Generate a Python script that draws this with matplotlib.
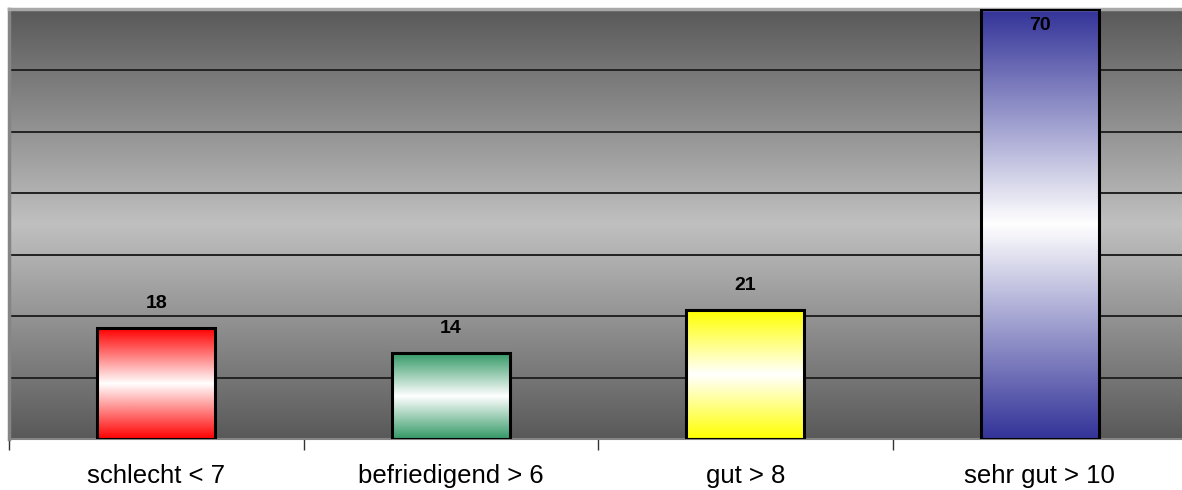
import matplotlib.pyplot as plt
import numpy as np
from matplotlib.colors import LinearSegmentedColormap
from matplotlib.patches import Rectangle

categories = ['schlecht < 7', 'befriedigend > 6', 'gut > 8', 'sehr gut > 10']
values = [18, 14, 21, 70]
bar_colors = ['#ff0000', '#339966', '#ffff00', '#333399']

plt.rcParams['font.family'] = ['Liberation Sans', 'DejaVu Sans']

fig = plt.figure(figsize=(11.82, 4.9), dpi=100)
# plot area runs a little past the right border of the figure
ax = fig.add_axes([9 / 1182, 51 / 490, 1178 / 1182, 430 / 490])

x = np.arange(len(categories))
ax.set_xlim(-0.5, len(categories) - 0.5)
ax.set_ylim(0, 70)

# grey background: dark at top and bottom, light in the middle
t = np.linspace(0, 1, 256)
bg = 1 - np.abs(t - 0.5) * 2
bg_cmap = LinearSegmentedColormap.from_list('bg', ['#595959', '#c0c0c0'])
ax.imshow(bg[:, None], aspect='auto', cmap=bg_cmap, vmin=0, vmax=1,
          extent=[-0.5, len(categories) - 0.5, 0, 70], origin='lower', zorder=0)

for yv in range(10, 70, 10):
    ax.axhline(yv, color='#222222', lw=1.4, zorder=1)

width = 0.4
for xi, v, c in zip(x, values, bar_colors):
    cmap = LinearSegmentedColormap.from_list('b', [c, 'white'])
    im = ax.imshow(bg[:, None], aspect='auto', cmap=cmap, vmin=0, vmax=1,
                   extent=[xi - width / 2, xi + width / 2, 0, v],
                   origin='lower', zorder=2)
    rect = Rectangle((xi - width / 2, 0), width, v, fill=False,
                     edgecolor='black', lw=2.2, zorder=3)
    ax.add_patch(rect)
    im.set_clip_path(rect)
    if v >= 65:
        ax.text(xi, v - 1.3, str(v), ha='center', va='top',
                fontsize=14, fontweight='bold', zorder=4)
    else:
        ax.text(xi, v + 2.6, str(v), ha='center', va='bottom',
                fontsize=14, fontweight='bold', zorder=4)

ax.set_xlim(-0.5, len(categories) - 0.5)
ax.set_ylim(0, 70)

ax.set_xticks(x)
ax.set_xticklabels(categories, fontsize=18.5)
ax.set_xticks(np.arange(-0.5, len(categories), 1), minor=True)
ax.tick_params(axis='x', which='major', length=0, pad=18)
ax.tick_params(axis='x', which='minor', length=8, width=1, color='#333333')
ax.set_yticks([])

ax.spines['left'].set_color('#858585')
ax.spines['left'].set_linewidth(2.5)
ax.spines['bottom'].set_color('#858585')
ax.spines['bottom'].set_linewidth(1.5)
ax.spines['top'].set_color('#a8a8a8')
ax.spines['top'].set_linewidth(2.5)
ax.spines['right'].set_visible(False)

plt.savefig('out.png', dpi=100)
